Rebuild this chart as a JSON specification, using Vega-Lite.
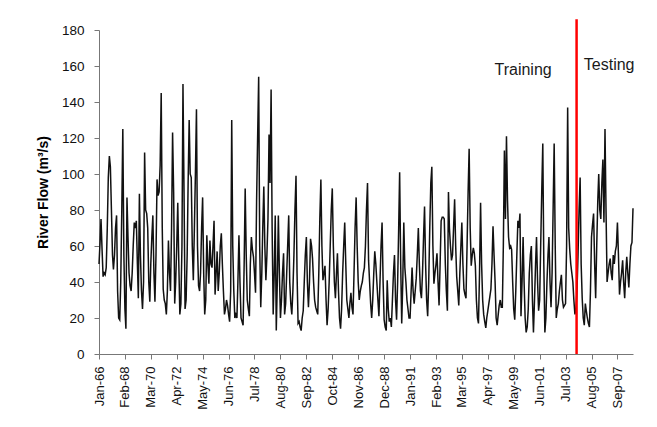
{
"$schema": "https://vega.github.io/schema/vega-lite/v6.json",
"width": 534, "height": 324,
"autosize": {"type": "none"},
"padding": {"left": 99, "top": 30, "right": 24, "bottom": 73},
"config": {"font": "Liberation Sans", "view": {"stroke": null}, "background": "white", "axis": {"labelOverlap": false, "labelFlush": false, "grid": false}},
"encoding": {
"x": {"field": "d", "type": "temporal",
"scale": {"type": "utc", "domain": [{"year": 1966, "month": 1, "date": 1, "utc": true}, {"year": 2008, "month": 12, "date": 1, "utc": true}]},
"axis": {"title": null, "grid": false,
"values": [{"year":1966,"month":1,"date":1,"utc":true},{"year":1968,"month":2,"date":1,"utc":true},{"year":1970,"month":3,"date":1,"utc":true},{"year":1972,"month":4,"date":1,"utc":true},{"year":1974,"month":5,"date":1,"utc":true},{"year":1976,"month":6,"date":1,"utc":true},{"year":1978,"month":7,"date":1,"utc":true},{"year":1980,"month":8,"date":1,"utc":true},{"year":1982,"month":9,"date":1,"utc":true},{"year":1984,"month":10,"date":1,"utc":true},{"year":1986,"month":11,"date":1,"utc":true},{"year":1988,"month":12,"date":1,"utc":true},{"year":1991,"month":1,"date":1,"utc":true},{"year":1993,"month":2,"date":1,"utc":true},{"year":1995,"month":3,"date":1,"utc":true},{"year":1997,"month":4,"date":1,"utc":true},{"year":1999,"month":5,"date":1,"utc":true},{"year":2001,"month":6,"date":1,"utc":true},{"year":2003,"month":7,"date":1,"utc":true},{"year":2005,"month":8,"date":1,"utc":true},{"year":2007,"month":9,"date":1,"utc":true}],
"labelExpr": "utcFormat(datum.value, '%b-%y')",
"labelAngle": -90, "labelFontSize": 13, "labelColor": "#111111", "labelPadding": 7,
"labelOverlap": false, "labelFlush": false,
"tickSize": 5, "tickColor": "#777777", "domainColor": "#777777"}},
"y": {"field": "q", "type": "quantitative",
"scale": {"domain": [0, 180], "nice": false},
"axis": {"title": "River Flow (m³/s)", "titleFontSize": 14, "titleFontWeight": "bold", "titleColor": "#000000", "titlePadding": 11,
"values": [0, 20, 40, 60, 80, 100, 120, 140, 160, 180],
"labelOverlap": false,
"labelFontSize": 13.5, "labelColor": "#111111", "labelPadding": 10,
"tickSize": 5, "tickColor": "#777777", "domainColor": "#777777", "grid": false}}
},
"layer": [
{
"data": {"values": [
{"d":"1966-01","q":50},{"d":"1966-02","q":62},{"d":"1966-03","q":75},{"d":"1966-04","q":58},{"d":"1966-05","q":43},{"d":"1966-06","q":45},{"d":"1966-07","q":44},{"d":"1966-08","q":48},{"d":"1966-09","q":70},{"d":"1966-10","q":98},{"d":"1966-11","q":110},{"d":"1966-12","q":104},
{"d":"1967-01","q":80},{"d":"1967-02","q":55},{"d":"1967-03","q":47},{"d":"1967-04","q":55},{"d":"1967-05","q":70},{"d":"1967-06","q":77},{"d":"1967-07","q":35},{"d":"1967-08","q":20},{"d":"1967-09","q":19},{"d":"1967-10","q":40},{"d":"1967-11","q":80},{"d":"1967-12","q":125},
{"d":"1968-01","q":55},{"d":"1968-02","q":25},{"d":"1968-03","q":14},{"d":"1968-04","q":87},{"d":"1968-05","q":65},{"d":"1968-06","q":45},{"d":"1968-07","q":38},{"d":"1968-08","q":35},{"d":"1968-09","q":45},{"d":"1968-10","q":60},{"d":"1968-11","q":73},{"d":"1968-12","q":70},
{"d":"1969-01","q":74},{"d":"1969-02","q":50},{"d":"1969-03","q":31},{"d":"1969-04","q":89},{"d":"1969-05","q":55},{"d":"1969-06","q":35},{"d":"1969-07","q":25},{"d":"1969-08","q":40},{"d":"1969-09","q":112},{"d":"1969-10","q":80},{"d":"1969-11","q":78},{"d":"1969-12","q":70},
{"d":"1970-01","q":40},{"d":"1970-02","q":29},{"d":"1970-03","q":50},{"d":"1970-04","q":65},{"d":"1970-05","q":77},{"d":"1970-06","q":45},{"d":"1970-07","q":29},{"d":"1970-08","q":55},{"d":"1970-09","q":97},{"d":"1970-10","q":88},{"d":"1970-11","q":90},{"d":"1970-12","q":105},
{"d":"1971-01","q":145},{"d":"1971-02","q":70},{"d":"1971-03","q":36},{"d":"1971-04","q":30},{"d":"1971-05","q":28},{"d":"1971-06","q":22},{"d":"1971-07","q":35},{"d":"1971-08","q":63},{"d":"1971-09","q":45},{"d":"1971-10","q":35},{"d":"1971-11","q":70},{"d":"1971-12","q":123},
{"d":"1972-01","q":90},{"d":"1972-02","q":28},{"d":"1972-03","q":40},{"d":"1972-04","q":60},{"d":"1972-05","q":84},{"d":"1972-06","q":50},{"d":"1972-07","q":22},{"d":"1972-08","q":28},{"d":"1972-09","q":60},{"d":"1972-10","q":150},{"d":"1972-11","q":90},{"d":"1972-12","q":25},
{"d":"1973-01","q":30},{"d":"1973-02","q":55},{"d":"1973-03","q":95},{"d":"1973-04","q":130},{"d":"1973-05","q":100},{"d":"1973-06","q":98},{"d":"1973-07","q":60},{"d":"1973-08","q":41},{"d":"1973-09","q":70},{"d":"1973-10","q":100},{"d":"1973-11","q":136},{"d":"1973-12","q":60},
{"d":"1974-01","q":38},{"d":"1974-02","q":35},{"d":"1974-03","q":45},{"d":"1974-04","q":70},{"d":"1974-05","q":87},{"d":"1974-06","q":45},{"d":"1974-07","q":22},{"d":"1974-08","q":30},{"d":"1974-09","q":66},{"d":"1974-10","q":50},{"d":"1974-11","q":39},{"d":"1974-12","q":63},
{"d":"1975-01","q":50},{"d":"1975-02","q":48},{"d":"1975-03","q":60},{"d":"1975-04","q":74},{"d":"1975-05","q":33},{"d":"1975-06","q":45},{"d":"1975-07","q":57},{"d":"1975-08","q":35},{"d":"1975-09","q":45},{"d":"1975-10","q":60},{"d":"1975-11","q":67},{"d":"1975-12","q":50},
{"d":"1976-01","q":35},{"d":"1976-02","q":22},{"d":"1976-03","q":25},{"d":"1976-04","q":30},{"d":"1976-05","q":27},{"d":"1976-06","q":22},{"d":"1976-07","q":18},{"d":"1976-08","q":35},{"d":"1976-09","q":130},{"d":"1976-10","q":60},{"d":"1976-11","q":35},{"d":"1976-12","q":20},
{"d":"1977-01","q":22},{"d":"1977-02","q":20},{"d":"1977-03","q":40},{"d":"1977-04","q":66},{"d":"1977-05","q":40},{"d":"1977-06","q":20},{"d":"1977-07","q":18},{"d":"1977-08","q":16},{"d":"1977-09","q":50},{"d":"1977-10","q":92},{"d":"1977-11","q":55},{"d":"1977-12","q":30},
{"d":"1978-01","q":25},{"d":"1978-02","q":21},{"d":"1978-03","q":50},{"d":"1978-04","q":65},{"d":"1978-05","q":58},{"d":"1978-06","q":54},{"d":"1978-07","q":45},{"d":"1978-08","q":34},{"d":"1978-09","q":85},{"d":"1978-10","q":120},{"d":"1978-11","q":154},{"d":"1978-12","q":60},
{"d":"1979-01","q":26},{"d":"1979-02","q":45},{"d":"1979-03","q":70},{"d":"1979-04","q":93},{"d":"1979-05","q":60},{"d":"1979-06","q":41},{"d":"1979-07","q":55},{"d":"1979-08","q":75},{"d":"1979-09","q":122},{"d":"1979-10","q":95},{"d":"1979-11","q":147},{"d":"1979-12","q":70},
{"d":"1980-01","q":22},{"d":"1980-02","q":45},{"d":"1980-03","q":77},{"d":"1980-04","q":13},{"d":"1980-05","q":40},{"d":"1980-06","q":77},{"d":"1980-07","q":45},{"d":"1980-08","q":20},{"d":"1980-09","q":30},{"d":"1980-10","q":45},{"d":"1980-11","q":56},{"d":"1980-12","q":22},
{"d":"1981-01","q":28},{"d":"1981-02","q":45},{"d":"1981-03","q":60},{"d":"1981-04","q":77},{"d":"1981-05","q":40},{"d":"1981-06","q":28},{"d":"1981-07","q":22},{"d":"1981-08","q":35},{"d":"1981-09","q":55},{"d":"1981-10","q":80},{"d":"1981-11","q":99},{"d":"1981-12","q":45},
{"d":"1982-01","q":17},{"d":"1982-02","q":18},{"d":"1982-03","q":15},{"d":"1982-04","q":13},{"d":"1982-05","q":20},{"d":"1982-06","q":24},{"d":"1982-07","q":40},{"d":"1982-08","q":55},{"d":"1982-09","q":65},{"d":"1982-10","q":40},{"d":"1982-11","q":26},{"d":"1982-12","q":40},
{"d":"1983-01","q":64},{"d":"1983-02","q":60},{"d":"1983-03","q":53},{"d":"1983-04","q":40},{"d":"1983-05","q":30},{"d":"1983-06","q":26},{"d":"1983-07","q":24},{"d":"1983-08","q":22},{"d":"1983-09","q":45},{"d":"1983-10","q":75},{"d":"1983-11","q":97},{"d":"1983-12","q":60},
{"d":"1984-01","q":41},{"d":"1984-02","q":45},{"d":"1984-03","q":49},{"d":"1984-04","q":30},{"d":"1984-05","q":16},{"d":"1984-06","q":25},{"d":"1984-07","q":40},{"d":"1984-08","q":60},{"d":"1984-09","q":80},{"d":"1984-10","q":92},{"d":"1984-11","q":60},{"d":"1984-12","q":40},
{"d":"1985-01","q":31},{"d":"1985-02","q":45},{"d":"1985-03","q":56},{"d":"1985-04","q":35},{"d":"1985-05","q":20},{"d":"1985-06","q":14},{"d":"1985-07","q":25},{"d":"1985-08","q":45},{"d":"1985-09","q":60},{"d":"1985-10","q":73},{"d":"1985-11","q":50},{"d":"1985-12","q":30},
{"d":"1986-01","q":25},{"d":"1986-02","q":20},{"d":"1986-03","q":28},{"d":"1986-04","q":34},{"d":"1986-05","q":26},{"d":"1986-06","q":22},{"d":"1986-07","q":45},{"d":"1986-08","q":70},{"d":"1986-09","q":87},{"d":"1986-10","q":60},{"d":"1986-11","q":40},{"d":"1986-12","q":30},
{"d":"1987-01","q":35},{"d":"1987-02","q":38},{"d":"1987-03","q":40},{"d":"1987-04","q":45},{"d":"1987-05","q":48},{"d":"1987-06","q":60},{"d":"1987-07","q":80},{"d":"1987-08","q":95},{"d":"1987-09","q":52},{"d":"1987-10","q":40},{"d":"1987-11","q":28},{"d":"1987-12","q":20},
{"d":"1988-01","q":30},{"d":"1988-02","q":45},{"d":"1988-03","q":57},{"d":"1988-04","q":50},{"d":"1988-05","q":40},{"d":"1988-06","q":30},{"d":"1988-07","q":21},{"d":"1988-08","q":40},{"d":"1988-09","q":60},{"d":"1988-10","q":73},{"d":"1988-11","q":40},{"d":"1988-12","q":19},
{"d":"1989-01","q":15},{"d":"1989-02","q":13},{"d":"1989-03","q":41},{"d":"1989-04","q":25},{"d":"1989-05","q":18},{"d":"1989-06","q":20},{"d":"1989-07","q":15},{"d":"1989-08","q":30},{"d":"1989-09","q":45},{"d":"1989-10","q":55},{"d":"1989-11","q":30},{"d":"1989-12","q":19},
{"d":"1990-01","q":40},{"d":"1990-02","q":70},{"d":"1990-03","q":101},{"d":"1990-04","q":50},{"d":"1990-05","q":17},{"d":"1990-06","q":40},{"d":"1990-07","q":73},{"d":"1990-08","q":48},{"d":"1990-09","q":40},{"d":"1990-10","q":30},{"d":"1990-11","q":25},{"d":"1990-12","q":20},
{"d":"1991-01","q":20},{"d":"1991-02","q":35},{"d":"1991-03","q":48},{"d":"1991-04","q":35},{"d":"1991-05","q":28},{"d":"1991-06","q":35},{"d":"1991-07","q":42},{"d":"1991-08","q":55},{"d":"1991-09","q":70},{"d":"1991-10","q":50},{"d":"1991-11","q":35},{"d":"1991-12","q":31},
{"d":"1992-01","q":45},{"d":"1992-02","q":65},{"d":"1992-03","q":82},{"d":"1992-04","q":50},{"d":"1992-05","q":30},{"d":"1992-06","q":21},{"d":"1992-07","q":40},{"d":"1992-08","q":70},{"d":"1992-09","q":95},{"d":"1992-10","q":104},{"d":"1992-11","q":60},{"d":"1992-12","q":39},
{"d":"1993-01","q":45},{"d":"1993-02","q":50},{"d":"1993-03","q":56},{"d":"1993-04","q":40},{"d":"1993-05","q":27},{"d":"1993-06","q":50},{"d":"1993-07","q":74},{"d":"1993-08","q":76},{"d":"1993-09","q":76},{"d":"1993-10","q":75},{"d":"1993-11","q":50},{"d":"1993-12","q":35},
{"d":"1994-01","q":24},{"d":"1994-02","q":90},{"d":"1994-03","q":70},{"d":"1994-04","q":60},{"d":"1994-05","q":52},{"d":"1994-06","q":55},{"d":"1994-07","q":70},{"d":"1994-08","q":86},{"d":"1994-09","q":60},{"d":"1994-10","q":43},{"d":"1994-11","q":35},{"d":"1994-12","q":27},
{"d":"1995-01","q":45},{"d":"1995-02","q":60},{"d":"1995-03","q":73},{"d":"1995-04","q":50},{"d":"1995-05","q":36},{"d":"1995-06","q":33},{"d":"1995-07","q":31},{"d":"1995-08","q":60},{"d":"1995-09","q":90},{"d":"1995-10","q":114},{"d":"1995-11","q":70},{"d":"1995-12","q":49},
{"d":"1996-01","q":55},{"d":"1996-02","q":59},{"d":"1996-03","q":56},{"d":"1996-04","q":49},{"d":"1996-05","q":30},{"d":"1996-06","q":20},{"d":"1996-07","q":17},{"d":"1996-08","q":45},{"d":"1996-09","q":84},{"d":"1996-10","q":50},{"d":"1996-11","q":30},{"d":"1996-12","q":22},
{"d":"1997-01","q":18},{"d":"1997-02","q":14.5},{"d":"1997-03","q":20},{"d":"1997-04","q":24},{"d":"1997-05","q":28},{"d":"1997-06","q":32},{"d":"1997-07","q":36},{"d":"1997-08","q":50},{"d":"1997-09","q":71},{"d":"1997-10","q":55},{"d":"1997-11","q":40},{"d":"1997-12","q":20},
{"d":"1998-01","q":16},{"d":"1998-02","q":22},{"d":"1998-03","q":27},{"d":"1998-04","q":30},{"d":"1998-05","q":26},{"d":"1998-06","q":26},{"d":"1998-07","q":60},{"d":"1998-08","q":113},{"d":"1998-09","q":75},{"d":"1998-10","q":121},{"d":"1998-11","q":85},{"d":"1998-12","q":65},
{"d":"1999-01","q":59},{"d":"1999-02","q":60},{"d":"1999-03","q":58},{"d":"1999-04","q":40},{"d":"1999-05","q":25},{"d":"1999-06","q":19},{"d":"1999-07","q":35},{"d":"1999-08","q":55},{"d":"1999-09","q":74},{"d":"1999-10","q":70},{"d":"1999-11","q":78},{"d":"1999-12","q":21},
{"d":"2000-01","q":40},{"d":"2000-02","q":65},{"d":"2000-03","q":40},{"d":"2000-04","q":20},{"d":"2000-05","q":12},{"d":"2000-06","q":15},{"d":"2000-07","q":25},{"d":"2000-08","q":45},{"d":"2000-09","q":55},{"d":"2000-10","q":60},{"d":"2000-11","q":30},{"d":"2000-12","q":12},
{"d":"2001-01","q":30},{"d":"2001-02","q":50},{"d":"2001-03","q":65},{"d":"2001-04","q":40},{"d":"2001-05","q":24},{"d":"2001-06","q":30},{"d":"2001-07","q":60},{"d":"2001-08","q":90},{"d":"2001-09","q":117},{"d":"2001-10","q":50},{"d":"2001-11","q":12},{"d":"2001-12","q":20},
{"d":"2002-01","q":40},{"d":"2002-02","q":55},{"d":"2002-03","q":65},{"d":"2002-04","q":40},{"d":"2002-05","q":26},{"d":"2002-06","q":45},{"d":"2002-07","q":80},{"d":"2002-08","q":117},{"d":"2002-09","q":60},{"d":"2002-10","q":20},{"d":"2002-11","q":25},{"d":"2002-12","q":28},
{"d":"2003-01","q":35},{"d":"2003-02","q":40},{"d":"2003-03","q":44},{"d":"2003-04","q":30},{"d":"2003-05","q":26},{"d":"2003-06","q":27},{"d":"2003-07","q":28},{"d":"2003-08","q":60},{"d":"2003-09","q":137},{"d":"2003-10","q":70},{"d":"2003-11","q":58},{"d":"2003-12","q":50},
{"d":"2004-01","q":45},{"d":"2004-02","q":40},{"d":"2004-03","q":30},{"d":"2004-04","q":22},{"d":"2004-05","q":25},{"d":"2004-06","q":35},{"d":"2004-07","q":55},{"d":"2004-08","q":80},{"d":"2004-09","q":98},{"d":"2004-10","q":50},{"d":"2004-11","q":31},{"d":"2004-12","q":20},
{"d":"2005-01","q":16},{"d":"2005-02","q":28},{"d":"2005-03","q":24},{"d":"2005-04","q":20},{"d":"2005-05","q":17},{"d":"2005-06","q":15},{"d":"2005-07","q":35},{"d":"2005-08","q":65},{"d":"2005-09","q":72},{"d":"2005-10","q":78},{"d":"2005-11","q":50},{"d":"2005-12","q":31},
{"d":"2006-01","q":60},{"d":"2006-02","q":85},{"d":"2006-03","q":100},{"d":"2006-04","q":80},{"d":"2006-05","q":75},{"d":"2006-06","q":95},{"d":"2006-07","q":108},{"d":"2006-08","q":73},{"d":"2006-09","q":125},{"d":"2006-10","q":80},{"d":"2006-11","q":40},{"d":"2006-12","q":45},
{"d":"2007-01","q":50},{"d":"2007-02","q":53},{"d":"2007-03","q":45},{"d":"2007-04","q":41},{"d":"2007-05","q":55},{"d":"2007-06","q":50},{"d":"2007-07","q":57},{"d":"2007-08","q":60},{"d":"2007-09","q":73},{"d":"2007-10","q":55},{"d":"2007-11","q":33},{"d":"2007-12","q":40},
{"d":"2008-01","q":45},{"d":"2008-02","q":52},{"d":"2008-03","q":40},{"d":"2008-04","q":31},{"d":"2008-05","q":45},{"d":"2008-06","q":54},{"d":"2008-07","q":45},{"d":"2008-08","q":37},{"d":"2008-09","q":50},{"d":"2008-10","q":60},{"d":"2008-11","q":62},{"d":"2008-12","q":81}
]},
"mark": {"type": "line", "color": "#111111", "strokeWidth": 1.5}
},
{
"data": {"values": [{"d": "2004-05-20", "q": 0, "q2": 186}]},
"mark": {"type": "rule", "color": "#ff0000", "strokeWidth": 2.5},
"encoding": {
"y2": {"field": "q2"}
}
},
{
"data": {"values": [{"d": "2000-02-01", "q": 158, "label": "Training"}, {"d": "2007-01-01", "q": 160.5, "label": "Testing"}]},
"mark": {"type": "text", "fontSize": 16, "color": "#1a1a1a", "align": "center", "baseline": "middle"},
"encoding": {
"text": {"field": "label"}
}
}
]
}
